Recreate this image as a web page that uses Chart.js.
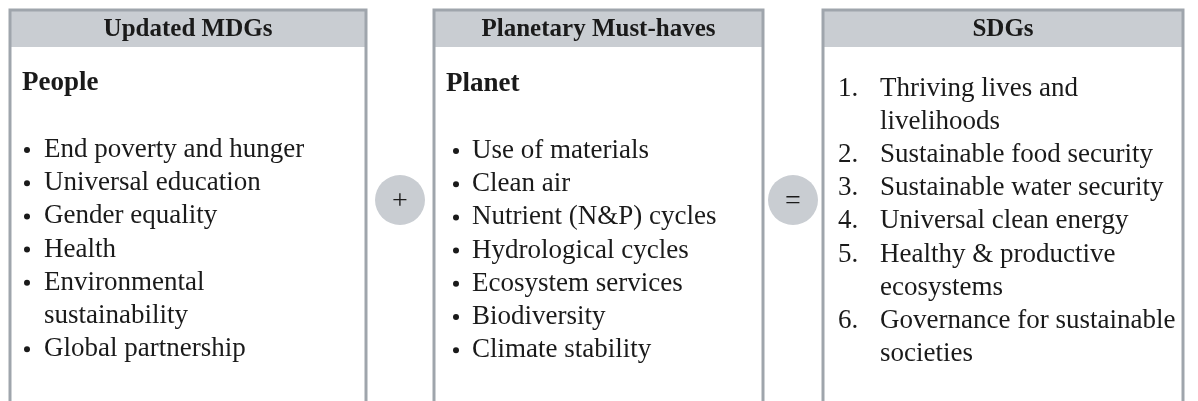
<!DOCTYPE html>
<html>
<head>
<meta charset="utf-8">
<script src="https://cdn.jsdelivr.net/npm/chart.js@4/dist/chart.umd.min.js"></script>
<style>
html, body { margin: 0; padding: 0; background: #fff; }
#wrap { width: 1198px; height: 401px; }
</style>
</head>
<body>
<div id="wrap"><canvas id="diagram"></canvas></div>
<script>
// content of the three panels
var titles = ['Updated MDGs', 'Planetary Must-haves', 'SDGs'];
var subtitles = ['People', 'Planet', ''];
var mdgItems = ['End poverty and hunger', 'Universal education', 'Gender equality', 'Health',
                'Environmental\nsustainability', 'Global partnership'];
var planetItems = ['Use of materials', 'Clean air', 'Nutrient (N&P) cycles', 'Hydrological cycles',
                   'Ecosystem services', 'Biodiversity', 'Climate stability'];
var sdgItems = ['Thriving lives and\nlivelihoods', 'Sustainable food security', 'Sustainable water security',
                'Universal clean energy', 'Healthy & productive\necosystems', 'Governance for sustainable\nsocieties'];
var operators = ['+', '='];

// layout (pixel units of the hidden scales)
var panels = [
    { left: 10, right: 366, items: mdgItems, marker: 'bullet', subY: 83, firstY: 150, textX: 44, markX: 27 },
    { left: 434, right: 763, items: planetItems, marker: 'bullet', subY: 84, firstY: 151, textX: 472, markX: 456 },
    { left: 823, right: 1183, items: sdgItems, marker: 'number', subY: 0, firstY: 88.5, textX: 880, markX: 838 }
];
var opX = [400, 793];
var lineStep = 33.2;
var font = '"Liberation Serif", "Times New Roman", serif';

var diagramPlugin = {
    id: 'diagram',
    afterDraw: function(chart){
        var ctx = chart.ctx;
        var xs = chart.scales.x, ys = chart.scales.y;
        ctx.save();
        panels.forEach(function(p, i){
            var l = xs.getPixelForValue(p.left), r = xs.getPixelForValue(p.right);
            var t = ys.getPixelForValue(10), hb = ys.getPixelForValue(47);
            var b = ys.getPixelForValue(410);
            ctx.fillStyle = '#c9cdd2';
            ctx.fillRect(l, t, r - l, hb - t);
            ctx.strokeStyle = '#9fa5ac';
            ctx.lineWidth = 3;
            ctx.beginPath();
            ctx.moveTo(l, b); ctx.lineTo(l, t); ctx.lineTo(r, t); ctx.lineTo(r, b);
            ctx.stroke();

            ctx.fillStyle = '#1a1a1a';
            ctx.textBaseline = 'middle';
            ctx.textAlign = 'center';
            ctx.font = 'bold 25px ' + font;
            ctx.fillText(titles[i], (l + r) / 2, ys.getPixelForValue(30));

            ctx.textAlign = 'left';
            if (subtitles[i]) {
                ctx.font = 'bold 27px ' + font;
                ctx.fillText(subtitles[i], xs.getPixelForValue(p.left + 12), ys.getPixelForValue(p.subY));
            }
            ctx.font = '27px ' + font;
            var line = 0;
            p.items.forEach(function(item, k){
                var y = ys.getPixelForValue(p.firstY + line * lineStep);
                if (p.marker === 'bullet') {
                    ctx.beginPath();
                    ctx.arc(xs.getPixelForValue(p.markX), y, 3, 0, Math.PI * 2);
                    ctx.fill();
                } else {
                    ctx.fillText((k + 1) + '.', xs.getPixelForValue(p.markX), y);
                }
                item.split('\n').forEach(function(txt){
                    ctx.fillText(txt, xs.getPixelForValue(p.textX), ys.getPixelForValue(p.firstY + line * lineStep));
                    line++;
                });
            });
        });

        operators.forEach(function(op, i){
            var cx = xs.getPixelForValue(opX[i]), cy = ys.getPixelForValue(200);
            ctx.fillStyle = '#c9cdd2';
            ctx.beginPath();
            ctx.arc(cx, cy, 25, 0, Math.PI * 2);
            ctx.fill();
            ctx.fillStyle = '#1a1a1a';
            ctx.textAlign = 'center';
            ctx.textBaseline = 'middle';
            ctx.font = '28px ' + font;
            ctx.fillText(op, cx, cy + 2);
        });
        ctx.restore();
    }
};

new Chart(document.getElementById('diagram'), {
    type: 'scatter',
    data: { datasets: [{ data: [] }] },
    options: {
        responsive: true,
        maintainAspectRatio: false,
        animation: false,
        layout: { padding: 0 },
        plugins: { legend: { display: false }, tooltip: { enabled: false } },
        scales: {
            x: { type: 'linear', min: 0, max: 1198, display: false },
            y: { type: 'linear', min: 0, max: 401, reverse: true, display: false }
        }
    },
    plugins: [diagramPlugin]
});
</script>
</body>
</html>
